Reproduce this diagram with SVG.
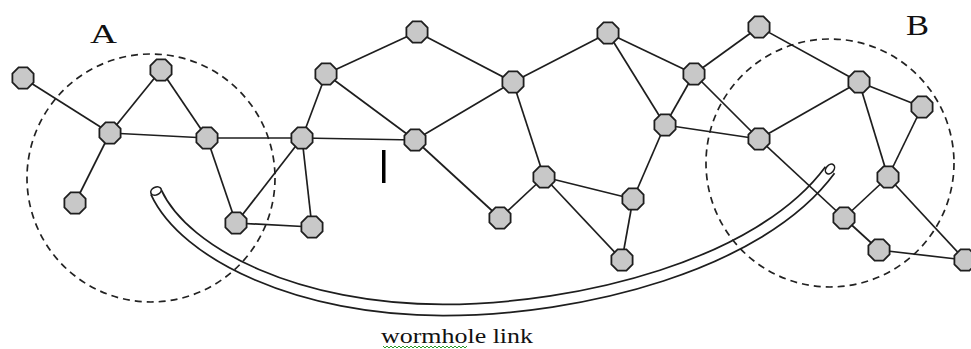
<svg xmlns="http://www.w3.org/2000/svg" xmlns:xlink="http://www.w3.org/1999/xlink" width="971" height="349" viewBox="0 0 971 349">
<style>
.edge{stroke:#1e1e1e;stroke-width:1.7;fill:none}
.zone{stroke:#222;stroke-width:1.7;fill:none;stroke-dasharray:7 5}
.node{fill:#c8c8c8;stroke:#1e1e1e;stroke-width:1.8}
.lbl{font-family:"Liberation Serif","Times New Roman",serif;fill:#111}
</style>
<defs>
<polygon id="oct" points="10.6,4.4 4.4,10.6 -4.4,10.6 -10.6,4.4 -10.6,-4.4 -4.4,-10.6 4.4,-10.6 10.6,-4.4"/>
</defs>
<rect width="971" height="349" fill="#fff"/>
<g id="wormhole">
<path d="M156,192 C185,255 300,310 443,310 C580,310 760,265 830,170" stroke="#1e1e1e" stroke-width="13" fill="none"/>
<path d="M156,192 C185,255 300,310 443,310 C580,310 760,265 830,170" stroke="#fff" stroke-width="9.5" fill="none"/>
<ellipse cx="156" cy="191" rx="5.5" ry="3.8" transform="rotate(-25 156 191)" fill="#fff" stroke="#1e1e1e" stroke-width="1.6"/>
<ellipse cx="830" cy="169" rx="5.5" ry="3.8" transform="rotate(-50 830 169)" fill="#fff" stroke="#1e1e1e" stroke-width="1.6"/>
</g>
<g id="zones">
<circle class="zone" cx="151" cy="178" r="124"/>
<circle class="zone" cx="830" cy="163" r="124"/>
</g>
<g id="connectors">
<line class="edge" x1="23" y1="78" x2="110" y2="133"/>
<line class="edge" x1="110" y1="133" x2="161" y2="70"/>
<line class="edge" x1="161" y1="70" x2="207" y2="138"/>
<line class="edge" x1="110" y1="133" x2="207" y2="138"/>
<line class="edge" x1="110" y1="133" x2="75" y2="203"/>
<line class="edge" x1="207" y1="138" x2="302" y2="138"/>
<line class="edge" x1="207" y1="138" x2="236" y2="223"/>
<line class="edge" x1="236" y1="223" x2="302" y2="138"/>
<line class="edge" x1="236" y1="223" x2="312" y2="227"/>
<line class="edge" x1="302" y1="138" x2="312" y2="227"/>
<line class="edge" x1="302" y1="138" x2="326" y2="74"/>
<line class="edge" x1="302" y1="138" x2="415" y2="140"/>
<line class="edge" x1="326" y1="74" x2="417" y2="32"/>
<line class="edge" x1="326" y1="74" x2="415" y2="140"/>
<line class="edge" x1="417" y1="32" x2="513" y2="82"/>
<line class="edge" x1="415" y1="140" x2="513" y2="82"/>
<line class="edge" x1="415" y1="140" x2="500" y2="218"/>
<line class="edge" x1="513" y1="82" x2="544" y2="177"/>
<line class="edge" x1="513" y1="82" x2="608" y2="33"/>
<line class="edge" x1="500" y1="218" x2="544" y2="177"/>
<line class="edge" x1="544" y1="177" x2="633" y2="199"/>
<line class="edge" x1="544" y1="177" x2="622" y2="260"/>
<line class="edge" x1="633" y1="199" x2="622" y2="260"/>
<line class="edge" x1="608" y1="33" x2="694" y2="74"/>
<line class="edge" x1="608" y1="33" x2="665" y2="125"/>
<line class="edge" x1="694" y1="74" x2="759" y2="27"/>
<line class="edge" x1="694" y1="74" x2="665" y2="125"/>
<line class="edge" x1="694" y1="74" x2="759" y2="139"/>
<line class="edge" x1="665" y1="125" x2="759" y2="139"/>
<line class="edge" x1="665" y1="125" x2="633" y2="199"/>
<line class="edge" x1="759" y1="27" x2="859" y2="82"/>
<line class="edge" x1="759" y1="139" x2="859" y2="82"/>
<line class="edge" x1="759" y1="139" x2="844" y2="218"/>
<line class="edge" x1="859" y1="82" x2="922" y2="107"/>
<line class="edge" x1="859" y1="82" x2="888" y2="177"/>
<line class="edge" x1="922" y1="107" x2="888" y2="177"/>
<line class="edge" x1="888" y1="177" x2="844" y2="218"/>
<line class="edge" x1="888" y1="177" x2="965" y2="260"/>
<line class="edge" x1="844" y1="218" x2="879" y2="250"/>
<line class="edge" x1="879" y1="250" x2="965" y2="260"/>
</g>
<g id="n1"><use xlink:href="#oct" href="#oct" class="node" x="23" y="78"/></g>
<g id="n2"><use xlink:href="#oct" href="#oct" class="node" x="161" y="70"/></g>
<g id="n3"><use xlink:href="#oct" href="#oct" class="node" x="110" y="133"/></g>
<g id="n4"><use xlink:href="#oct" href="#oct" class="node" x="207" y="138"/></g>
<g id="n5"><use xlink:href="#oct" href="#oct" class="node" x="75" y="203"/></g>
<g id="n6"><use xlink:href="#oct" href="#oct" class="node" x="236" y="223"/></g>
<g id="n7"><use xlink:href="#oct" href="#oct" class="node" x="312" y="227"/></g>
<g id="n8"><use xlink:href="#oct" href="#oct" class="node" x="302" y="138"/></g>
<g id="n9"><use xlink:href="#oct" href="#oct" class="node" x="326" y="74"/></g>
<g id="n10"><use xlink:href="#oct" href="#oct" class="node" x="417" y="32"/></g>
<g id="n11"><use xlink:href="#oct" href="#oct" class="node" x="415" y="140"/></g>
<g id="n12"><use xlink:href="#oct" href="#oct" class="node" x="513" y="82"/></g>
<g id="n13"><use xlink:href="#oct" href="#oct" class="node" x="500" y="218"/></g>
<g id="n14"><use xlink:href="#oct" href="#oct" class="node" x="544" y="177"/></g>
<g id="n15"><use xlink:href="#oct" href="#oct" class="node" x="633" y="199"/></g>
<g id="n16"><use xlink:href="#oct" href="#oct" class="node" x="622" y="260"/></g>
<g id="n17"><use xlink:href="#oct" href="#oct" class="node" x="608" y="33"/></g>
<g id="n18"><use xlink:href="#oct" href="#oct" class="node" x="694" y="74"/></g>
<g id="n19"><use xlink:href="#oct" href="#oct" class="node" x="665" y="125"/></g>
<g id="n20"><use xlink:href="#oct" href="#oct" class="node" x="759" y="27"/></g>
<g id="n21"><use xlink:href="#oct" href="#oct" class="node" x="759" y="139"/></g>
<g id="n22"><use xlink:href="#oct" href="#oct" class="node" x="859" y="82"/></g>
<g id="n23"><use xlink:href="#oct" href="#oct" class="node" x="922" y="107"/></g>
<g id="n24"><use xlink:href="#oct" href="#oct" class="node" x="888" y="177"/></g>
<g id="n25"><use xlink:href="#oct" href="#oct" class="node" x="844" y="218"/></g>
<g id="n26"><use xlink:href="#oct" href="#oct" class="node" x="879" y="250"/></g>
<g id="n27"><use xlink:href="#oct" href="#oct" class="node" x="965" y="260"/></g>
<g id="labels">
<text class="lbl" x="90" y="43" font-size="28" textLength="27" lengthAdjust="spacingAndGlyphs">A</text>
<text class="lbl" x="906" y="35" font-size="30" textLength="23" lengthAdjust="spacingAndGlyphs">B</text>
<rect x="382" y="150" width="3.5" height="33" fill="#000"/>
<text class="lbl" x="381" y="343" font-size="20" textLength="152" lengthAdjust="spacingAndGlyphs">wormhole link</text>
<path d="M383,346 l2,2 l2,-2 l2,2 l2,-2 l2,2 l2,-2 l2,2 l2,-2 l2,2 l2,-2 l2,2 l2,-2 l2,2 l2,-2 l2,2 l2,-2 l2,2 l2,-2 l2,2 l2,-2 l2,2 l2,-2 l2,2 l2,-2 l2,2 l2,-2 l2,2 l2,-2 l2,2 l2,-2 l2,2 l2,-2 l2,2 l2,-2 l2,2 l2,-2 l2,2 l2,-2 l2,2 l2,-2 l2,2 l2,-2" stroke="#2a9a2a" stroke-width="1" fill="none"/>
</g>
</svg>
